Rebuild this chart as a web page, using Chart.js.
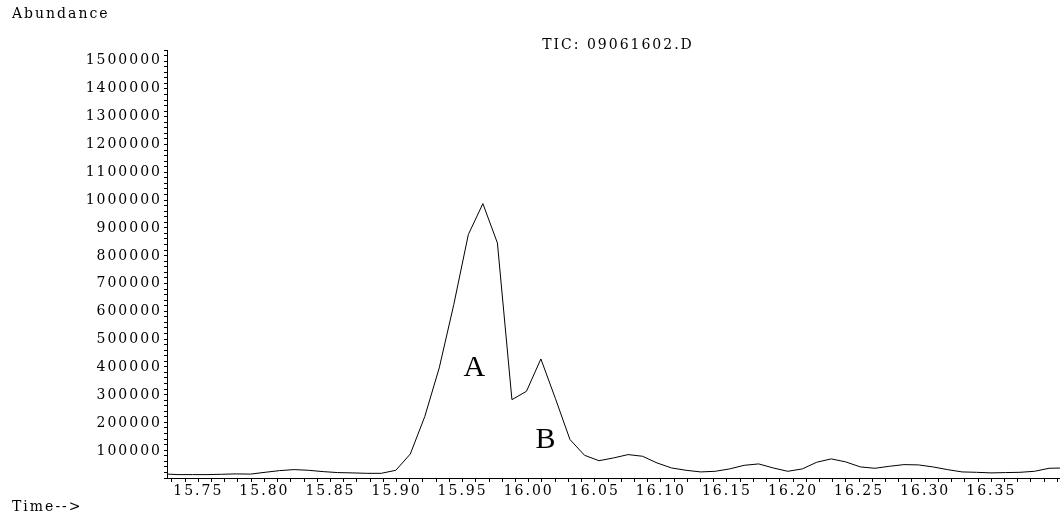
<!DOCTYPE html>
<html>
<head>
<meta charset="utf-8">
<script src="https://cdn.jsdelivr.net/npm/chart.js@4"></script>
<style>
    html, body { margin: 0; padding: 0; background: #fff; }
    #wrap { width: 1060px; height: 515px; position: relative; }
</style>
</head>
<body>
<div id="wrap"><canvas id="tic-chart"></canvas></div>
<script>
// Retention time (min) of each scan
const scanTimes = [
    15.7236, 15.7346, 15.7456, 15.7566, 15.7676, 15.7786, 15.7895, 15.8005,
    15.8115, 15.8225, 15.8335, 15.8445, 15.8555, 15.8664, 15.8774, 15.8884,
    15.8994, 15.9104, 15.9214, 15.9323, 15.9433, 15.9543, 15.9653, 15.9763,
    15.9873, 15.9983, 16.0092, 16.0202, 16.0312, 16.0422, 16.0532, 16.0642,
    16.0752, 16.0861, 16.0971, 16.1081, 16.1191, 16.1301, 16.1411, 16.1520,
    16.1630, 16.1740, 16.1850, 16.1960, 16.2070, 16.2180, 16.2289, 16.2399,
    16.2509, 16.2619, 16.2729, 16.2839, 16.2948, 16.3058, 16.3168, 16.3278,
    16.3388, 16.3498, 16.3607, 16.3717, 16.3827, 16.3937, 16.4047
];

// Total ion current per scan
const abundance = [
    14700, 12200, 12200, 12200, 13300, 14700, 14000, 20400,
    26500, 30100, 27600, 22900, 19400, 18300, 16800, 16800,
    27600, 86000, 221000, 395000, 622000, 873000, 984000, 843000,
    281000, 311000, 427000, 285000, 138000, 81500, 62000, 72000,
    84000, 78000, 54000, 36000, 27600, 21800, 24000, 32600,
    45500, 50500, 36000, 24000, 32600, 56600, 68500, 57700,
    39800, 34800, 42000, 48000, 47000, 39800, 30100, 21800,
    20400, 18300, 19400, 20400, 24000, 34800, 36000
];

const xTickLabels = ['15.75', '15.80', '15.85', '15.90', '15.95', '16.00', '16.05',
    '16.10', '16.15', '16.20', '16.25', '16.30', '16.35'];
const yTickLabels = ['100000', '200000', '300000', '400000', '500000', '600000', '700000',
    '800000', '900000', '1000000', '1100000', '1200000', '1300000', '1400000', '1500000'];

// Peak labels (anchored at the letter baseline)
const peakNames = ['A', 'B'];
const peakTimes = [15.9589, 16.0127];
const peakValues = [364500, 109000];

const chartTitle = 'TIC: 09061602.D';
const yAxisTitle = 'Abundance';
const xAxisTitle = 'Time-->';

const textFont = '"DejaVu Serif", "Liberation Serif", serif';
const textSize = 14;
const spacing = '2px';

// wide letter spacing for every text the chart draws
const spacingPlugin = {
    id: 'spacing',
    beforeLayout(chart) { chart.ctx.letterSpacing = spacing; },
    beforeDraw(chart) { chart.ctx.letterSpacing = spacing; }
};

// titles, y labels and peak letters
const textPlugin = {
    id: 'texts',
    afterDraw(chart) {
        const ctx = chart.ctx;
        const xs = chart.scales.x;
        const ys = chart.scales.y;
        ctx.save();
        ctx.fillStyle = '#000';
        ctx.letterSpacing = spacing;
        ctx.font = textSize + 'px ' + textFont;
        ctx.textBaseline = 'middle';
        ctx.textAlign = 'left';
        ctx.fillText(yAxisTitle, 12, 14);
        ctx.fillText(xAxisTitle, 12, 507);
        ctx.textAlign = 'center';
        ctx.fillText(chartTitle, 618, 45);

        // y tick labels
        ctx.textAlign = 'right';
        yTickLabels.forEach(label => {
            ctx.fillText(label, ys.left + ys.width - 5, ys.getPixelForValue(Number(label)) + 1);
        });

        ctx.letterSpacing = '0px';
        ctx.textAlign = 'center';
        ctx.textBaseline = 'alphabetic';
        ctx.font = '30px "Liberation Serif", serif';
        peakNames.forEach((name, i) => {
            ctx.fillText(name, xs.getPixelForValue(peakTimes[i]), ys.getPixelForValue(peakValues[i]));
        });
        ctx.restore();
    }
};

const ctx = document.getElementById('tic-chart').getContext('2d');
new Chart(ctx, {
    type: 'line',
    data: {
        datasets: [{
            data: scanTimes.map((t, i) => ({ x: t, y: abundance[i] })),
            borderColor: '#000',
            borderWidth: 1,
            pointRadius: 0,
            tension: 0,
            fill: false
        }]
    },
    options: {
        responsive: true,
        maintainAspectRatio: false,
        animation: false,
        events: [],
        layout: { padding: { top: 50, right: 0, bottom: 0, left: 0 } },
        plugins: {
            legend: { display: false },
            tooltip: { enabled: false }
        },
        scales: {
            x: {
                type: 'linear',
                min: 15.7263,
                max: 16.402,
                afterFit: scale => { scale.height = 37; },
                border: { color: '#000', width: 1 },
                grid: { drawOnChartArea: false, drawTicks: true, tickLength: 4, tickColor: '#000' },
                ticks: {
                    stepSize: 0.01,
                    includeBounds: false,
                    autoSkip: false,
                    maxRotation: 0,
                    padding: 1,
                    color: '#000',
                    font: { family: textFont, size: textSize },
                    callback: value => {
                        const label = value.toFixed(2);
                        return xTickLabels.includes(label) ? label : '';
                    }
                }
            },
            y: {
                min: 0,
                max: 1535000,
                afterFit: scale => { scale.width = 167; },
                border: { color: '#000', width: 1 },
                grid: { drawOnChartArea: false, drawTicks: true, tickLength: 3, tickColor: '#000' },
                ticks: {
                    stepSize: 20000,
                    includeBounds: false,
                    autoSkip: false,
                    color: '#000',
                    callback: () => ''
                }
            }
        }
    },
    plugins: [spacingPlugin, textPlugin]
});
</script>
</body>
</html>
